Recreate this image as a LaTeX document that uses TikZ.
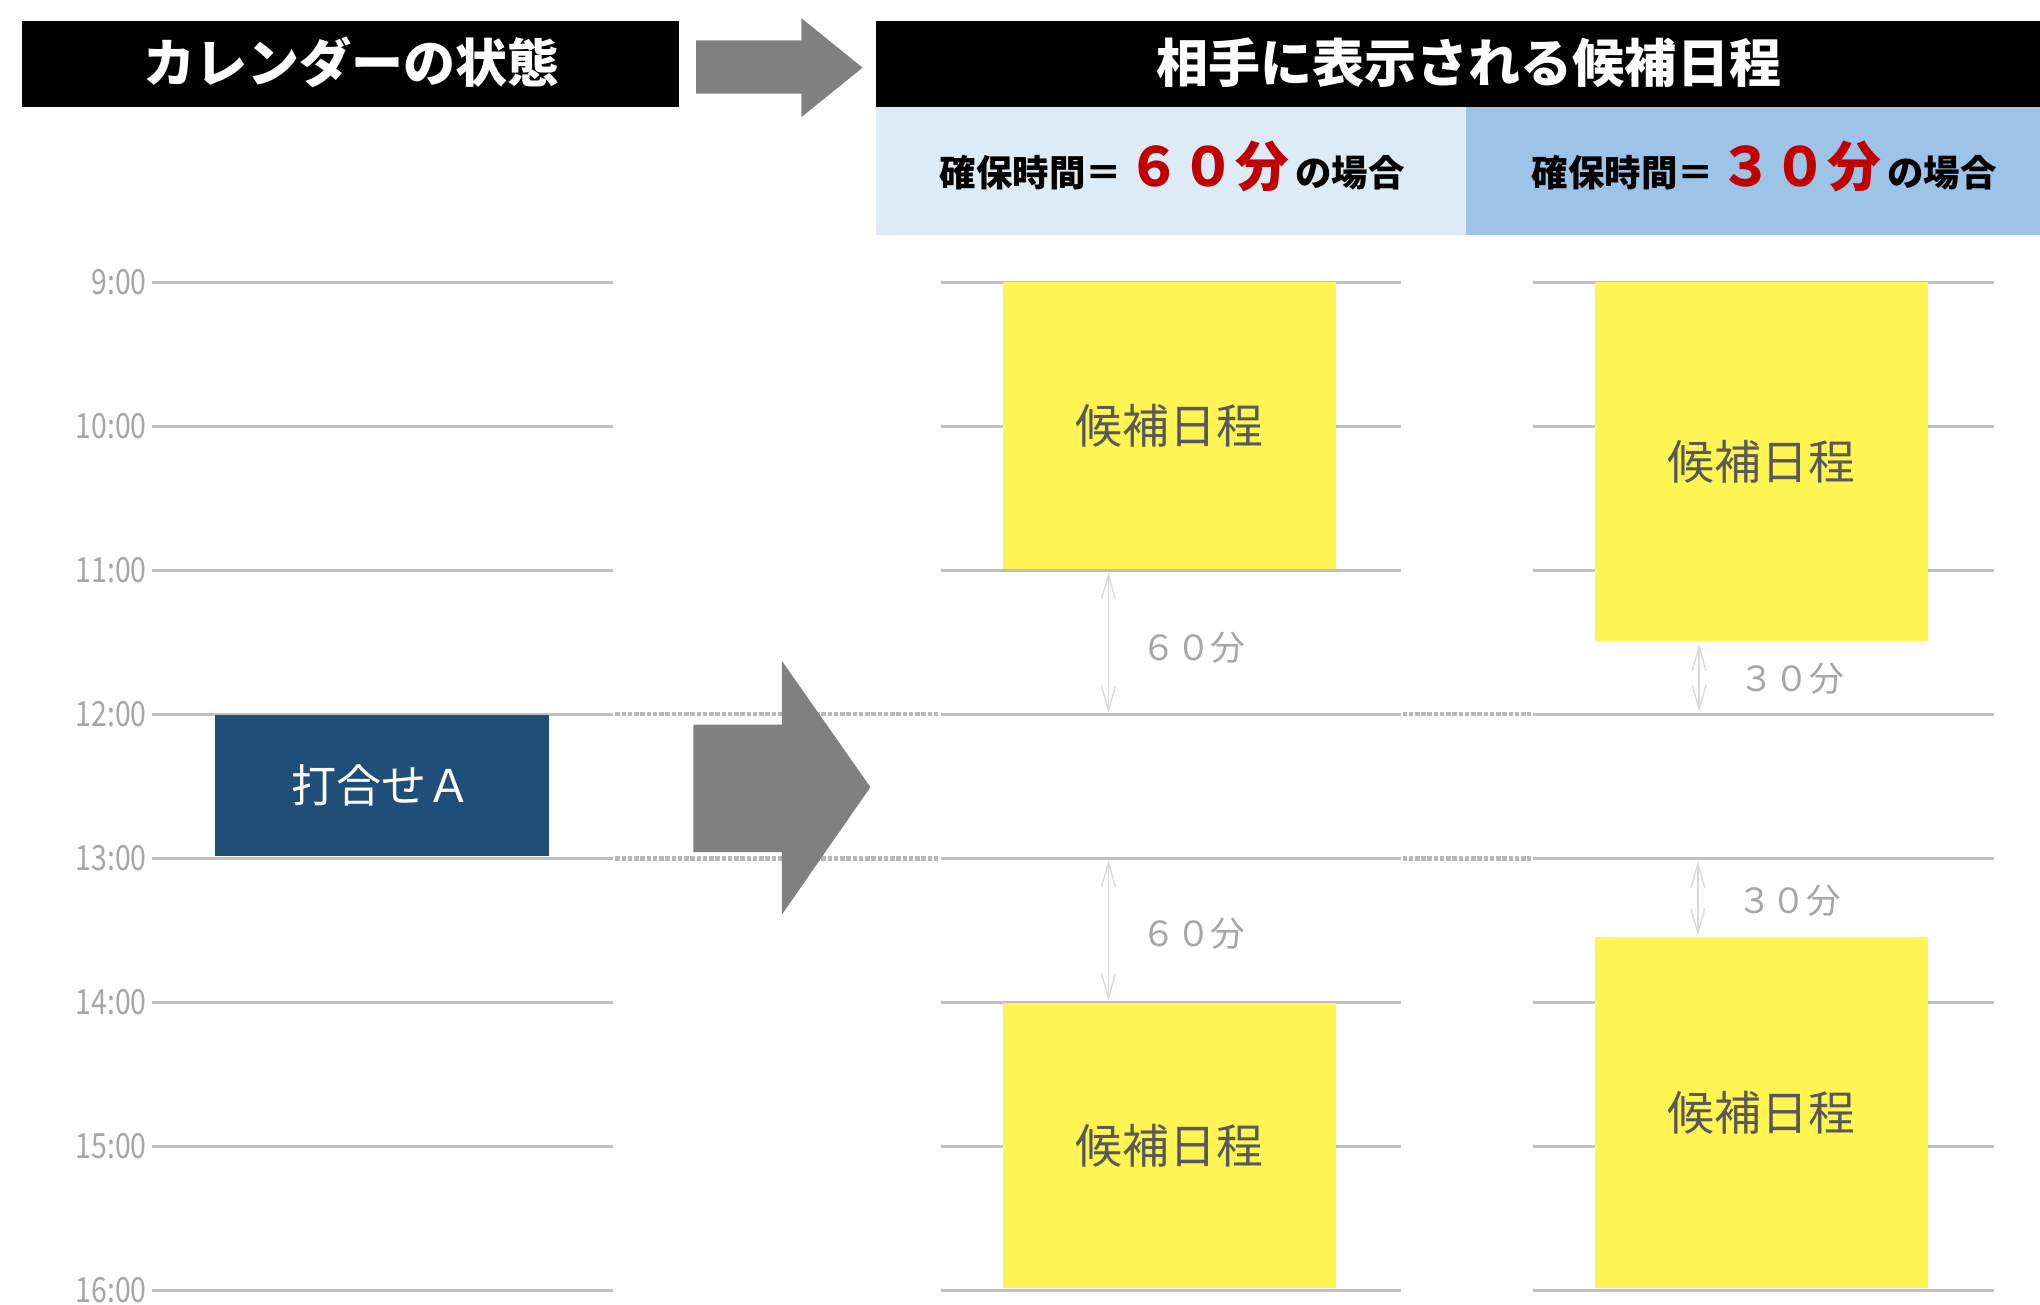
\documentclass[tikz,border=0pt]{standalone}
\usepackage{fontspec}
\setmainfont{Noto Sans CJK JP}
\newfontfamily\jp{Noto Sans CJK JP}
\newfontfamily\timefont[FakeStretch=0.82]{Noto Sans CJK JP}
\usetikzlibrary{arrows.meta}
\definecolor{lineg}{HTML}{BFBFBF}
\definecolor{dotg}{HTML}{B8B8B8}
\definecolor{labg}{HTML}{A6A6A6}
\definecolor{arrg}{HTML}{D9D9D9}
\definecolor{candy}{HTML}{FFF552}
\definecolor{candt}{HTML}{595959}
\definecolor{meet}{HTML}{1F4E79}
\definecolor{lblue}{HTML}{DDEBF7}
\definecolor{mblue}{HTML}{9DC3E6}
\definecolor{bigarr}{HTML}{808080}
\definecolor{redt}{HTML}{C00000}
\begin{document}
\begin{tikzpicture}[x=0.75pt,y=-0.75pt,
  htext/.style={text=white,font=\jp\bfseries\fontsize{30}{36}\selectfont,inner sep=0},
  gridline/.style={draw=lineg,line width=2.1pt},
  dotline/.style={draw=dotg,line width=2.4pt,dash pattern=on 2.6pt off 1.0pt},
  tlabel/.style={text=labg,font=\timefont\fontsize{20}{20}\selectfont,anchor=east,inner sep=0},
  cand/.style={fill=candy,minimum width=256*0.75pt,text=candt,font=\jp\fontsize{27}{27}\selectfont,inner sep=0},
  gaparrow/.style={draw=arrg,line width=0.8pt,{Straight Barb[length=14pt,width=8pt]}-{Straight Barb[length=14pt,width=8pt]}},
  glabel/.style={text=labg,font=\jp\fontsize{20}{20}\selectfont,anchor=west,inner sep=0},
  subtext/.style={font=\jp\bfseries\fontsize{21}{21}\selectfont,anchor=base,inner sep=0}
]
\useasboundingbox (0,0) rectangle (1568,1002.3);
\clip (0,0) rectangle (1568,1002.3);

% header bars
\fill[black] (17,16) rectangle (522,82);
\fill[black] (673,16) rectangle (1585,82);
\fill[lblue] (673,82) rectangle (1127,181);
\fill[mblue] (1127,82) rectangle (1585,181);
\node[htext] (hA) at (270,48) {カレンダーの状態};
\node[htext] (hB) at (1129,48) {相手に表示される候補日程};
\node[subtext] (sA) at (901,143) {確保時間＝\,{\color{redt}\fontsize{31}{31}\selectfont ６０分}\,の場合};
\node[subtext] (sB) at (1356,143) {確保時間＝\,{\color{redt}\fontsize{31}{31}\selectfont ３０分}\,の場合};

% top arrow
\fill[bigarr] (535,31) -- (616,31) -- (616,14) -- (663,52) -- (616,90) -- (616,72) -- (535,72) -- cycle;

% time grid
\foreach \k/\t in {0/9:00,1/10:00,2/11:00,3/12:00,4/13:00,5/14:00,6/15:00,7/16:00}{
  \pgfmathsetmacro{\yy}{217+110.7*\k}
  \draw[gridline] (117,\yy) -- (471,\yy);
  \draw[gridline] (723,\yy) -- (1077,\yy);
  \draw[gridline] (1178,\yy) -- (1533,\yy);
  \node[tlabel] (t\k) at (113,\yy) {\t};
}
\foreach \k in {3,4}{
  \pgfmathsetmacro{\yy}{217+110.7*\k}
  \draw[dotline] (473,\yy) -- (722,\yy);
  \draw[dotline] (1078,\yy) -- (1177,\yy);
}

% meeting
\node[fill=meet,minimum width=257*0.75pt,minimum height=109*0.75pt,text=white,
      font=\jp\fontsize{26}{26}\selectfont,inner sep=0] (mtg) at (293.5,603.8) {打合せＡ};

% big arrow
\fill[bigarr] (533,557) -- (601,557) -- (601,508) -- (669,605) -- (601,703) -- (601,655) -- (533,655) -- cycle;

% candidates
\node[cand,minimum height=220*0.75pt] (c1a) at (899,327) {候補日程};
\node[cand,minimum height=219*0.75pt] (c1b) at (899,880.5) {候補日程};
\node[cand,minimum height=276*0.75pt] (c2a) at (1354,355) {候補日程};
\node[cand,minimum height=270*0.75pt] (c2b) at (1354,855) {候補日程};

% gap arrows
\coordinate (g1a) at (852,440);
\coordinate (g1b) at (852,548);
\coordinate (g2a) at (852,661);
\coordinate (g2b) at (852,769);
\coordinate (g3a) at (1306,495);
\coordinate (g3b) at (1306,547);
\coordinate (g4a) at (1305,662);
\coordinate (g4b) at (1305,719);
\draw[gaparrow] (g1a) -- (g1b);
\draw[gaparrow] (g2a) -- (g2b);
\draw[gaparrow] (g3a) -- (g3b);
\draw[gaparrow] (g4a) -- (g4b);
\node[glabel] (l1) at (877,498) {６０分};
\node[glabel] (l2) at (877,718) {６０分};
\node[glabel] (l3) at (1337,522) {３０分};
\node[glabel] (l4) at (1335,692) {３０分};
\end{tikzpicture}
\end{document}
